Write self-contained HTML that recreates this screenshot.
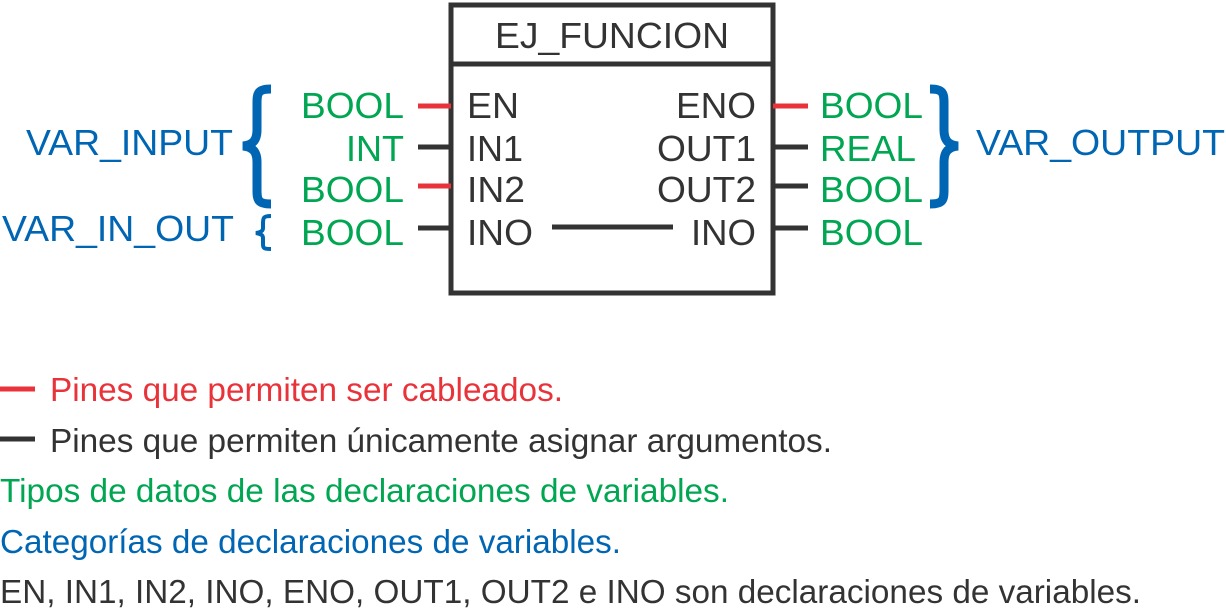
<!DOCTYPE html>
<html><head><meta charset="utf-8"><style>
html,body{margin:0;padding:0;background:#fff;width:1226px;height:610px;overflow:hidden}
svg{display:block}
text{font-family:"Liberation Sans",Arial,sans-serif}
</style></head><body>
<svg width="1226" height="610" viewBox="0 0 1226 610" xmlns="http://www.w3.org/2000/svg">
<rect x="451" y="5" width="322" height="288" fill="none" stroke="#333" stroke-width="5"/>
<line x1="451" y1="64" x2="773" y2="64" stroke="#333" stroke-width="5"/>
<text x="495" y="48" font-size="36" fill="#333" textLength="234" lengthAdjust="spacingAndGlyphs">EJ_FUNCION</text>
<g stroke-width="5">
<line x1="418" y1="106" x2="451" y2="106" stroke="#e8333a"/>
<line x1="418" y1="147" x2="451" y2="147" stroke="#333"/>
<line x1="418" y1="186" x2="451" y2="186" stroke="#e8333a"/>
<line x1="418" y1="228" x2="451" y2="228" stroke="#333"/>
<line x1="773" y1="106" x2="808" y2="106" stroke="#e8333a"/>
<line x1="773" y1="147" x2="808" y2="147" stroke="#333"/>
<line x1="773" y1="186" x2="808" y2="186" stroke="#333"/>
<line x1="773" y1="228" x2="808" y2="228" stroke="#333"/>
<line x1="552" y1="227" x2="673" y2="227" stroke="#333"/>
</g>
<g font-size="36" fill="#333" lengthAdjust="spacingAndGlyphs">
<text x="467" y="118" textLength="52" lengthAdjust="spacingAndGlyphs">EN</text>
<text x="467" y="161" textLength="56" lengthAdjust="spacingAndGlyphs">IN1</text>
<text x="467" y="202" textLength="58" lengthAdjust="spacingAndGlyphs">IN2</text>
<text x="467" y="245" textLength="66" lengthAdjust="spacingAndGlyphs">INO</text>
<text x="676" y="118" textLength="80" lengthAdjust="spacingAndGlyphs">ENO</text>
<text x="657" y="161" textLength="99" lengthAdjust="spacingAndGlyphs">OUT1</text>
<text x="657" y="202" textLength="99" lengthAdjust="spacingAndGlyphs">OUT2</text>
<text x="691" y="245" textLength="65" lengthAdjust="spacingAndGlyphs">INO</text>
</g>
<g font-size="36" fill="#00a651">
<text x="301" y="118" textLength="103" lengthAdjust="spacingAndGlyphs">BOOL</text>
<text x="346" y="161" textLength="58" lengthAdjust="spacingAndGlyphs">INT</text>
<text x="301" y="202" textLength="103" lengthAdjust="spacingAndGlyphs">BOOL</text>
<text x="301" y="245" textLength="103" lengthAdjust="spacingAndGlyphs">BOOL</text>
<text x="820" y="118" textLength="103" lengthAdjust="spacingAndGlyphs">BOOL</text>
<text x="820" y="161" textLength="96" lengthAdjust="spacingAndGlyphs">REAL</text>
<text x="820" y="202" textLength="103" lengthAdjust="spacingAndGlyphs">BOOL</text>
<text x="820" y="245" textLength="103" lengthAdjust="spacingAndGlyphs">BOOL</text>
</g>
<g fill="none" stroke="#0066b3" stroke-width="9">
<path d="M271,89 C258,89 257,93 257,103 L257,130 C257,140 253,145 243,146 C253,147 257,152 257,162 L257,190 C257,200 258,204 271,204"/>
<path d="M930,89 C943,89 944,93 944,103 L944,130 C944,140 948,145 958,146 C948,147 944,152 944,162 L944,190 C944,200 943,204 930,204"/>
</g>
<path d="M271,216 C263,216 263,218 263,224 L263,228 C263,231 261,232 256,233 C261,234 263,235 263,238 L263,243 C263,248 263,249 271,249" fill="none" stroke="#0066b3" stroke-width="4"/>
<g font-size="36" fill="#0066b3">
<text x="26" y="155" textLength="207" lengthAdjust="spacingAndGlyphs">VAR_INPUT</text>
<text x="2" y="241" textLength="232" lengthAdjust="spacingAndGlyphs">VAR_IN_OUT</text>
<text x="976" y="155" textLength="249" lengthAdjust="spacingAndGlyphs">VAR_OUTPUT</text>
</g>
<line x1="0" y1="389" x2="35" y2="389" stroke="#e8333a" stroke-width="5"/>
<line x1="0" y1="439" x2="35" y2="439" stroke="#333" stroke-width="5"/>
<g font-size="33">
<text x="50" y="401" fill="#e8333a" textLength="513" lengthAdjust="spacingAndGlyphs">Pines que permiten ser cableados.</text>
<text x="50" y="452" fill="#333" textLength="782" lengthAdjust="spacingAndGlyphs">Pines que permiten únicamente asignar argumentos.</text>
<text x="0" y="502" fill="#00a651" textLength="729" lengthAdjust="spacingAndGlyphs">Tipos de datos de las declaraciones de variables.</text>
<text x="0" y="553" fill="#0066b3" textLength="621" lengthAdjust="spacingAndGlyphs">Categorías de declaraciones de variables.</text>
<text x="0" y="603" fill="#333" textLength="1141" lengthAdjust="spacingAndGlyphs">EN, IN1, IN2, INO, ENO, OUT1, OUT2 e INO son declaraciones de variables.</text>
</g>
</svg>
</body></html>
